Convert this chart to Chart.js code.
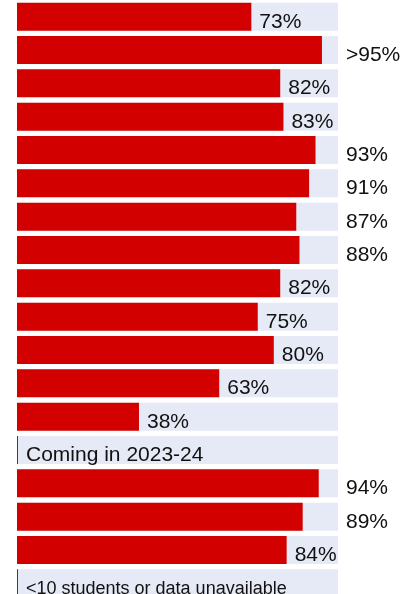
<!DOCTYPE html>
<html>
<head>
<meta charset="utf-8">
<script src="https://cdn.jsdelivr.net/npm/chart.js@4/dist/chart.umd.min.js"></script>
<style>
  html, body { margin: 0; padding: 0; background: #fff; overflow: hidden; }
  #wrap { width: 400px; height: 600px; }
</style>
</head>
<body>
<div id="wrap"><canvas id="grafico" width="400" height="600"></canvas></div>
<script>
// una fila por barra, de arriba a abajo
const filas = ['1', '2', '3', '4', '5', '6', '7', '8', '9', '10', '11', '12', '13', '14', '15', '16', '17', '18'];
const valores = [73, 95, 82, 83, 93, 91, 87, 88, 82, 75, 80, 63, 38, 0, 94, 89, 84, 0];
const etiquetas = ['73%', '>95%', '82%', '83%', '93%', '91%', '87%', '88%', '82%', '75%', '80%', '63%', '38%', '', '94%', '89%', '84%', ''];
const notas = ['', '', '', '', '', '', '', '', '', '', '', '', '', 'Coming in 2023-24', '', '', '', '<10 students or data unavailable'];
const maximo = [100, 100, 100, 100, 100, 100, 100, 100, 100, 100, 100, 100, 100, 100, 100, 100, 100, 100];

const ROJO = '#d30000';
const FONDO = '#e6e9f6';
const FUENTE = '"Liberation Sans", Arial, sans-serif';

const etiquetasPlugin = {
  id: 'etiquetas',
  afterDatasetsDraw(chart) {
    const ctx = chart.ctx;
    const meta = chart.getDatasetMeta(1);
    const limite = chart.scales.x.getPixelForValue(100);
    ctx.save();
    ctx.fillStyle = '#111';
    ctx.textBaseline = 'alphabetic';
    meta.data.forEach((barra, i) => {
      const y = barra.y + 11;
      if (notas[i]) {
        const size = notas[i].length > 20 ? 18 : 21;
        ctx.font = size + 'px ' + FUENTE;
        ctx.fillText(notas[i], barra.base + 9, y);
        return;
      }
      ctx.font = '21px ' + FUENTE;
      const w = ctx.measureText(etiquetas[i]).width;
      let x = barra.x + 8;
      if (x + w > limite) x = limite + 8;
      ctx.fillText(etiquetas[i], x, y);
    });
    ctx.restore();
  }
};

new Chart(document.getElementById('grafico').getContext('2d'), {
  type: 'bar',
  data: {
    labels: filas,
    datasets: [
      {
        data: maximo,
        backgroundColor: FONDO,
        grouped: false,
        order: 2,
        barPercentage: 0.84,
        categoryPercentage: 1
      },
      {
        data: valores,
        backgroundColor: ROJO,
        grouped: false,
        order: 1,
        minBarLength: 1,
        barPercentage: 0.84,
        categoryPercentage: 1
      }
    ]
  },
  options: {
    indexAxis: 'y',
    responsive: false,
    animation: false,
    layout: { padding: { left: 17, right: 62, top: 0, bottom: 0 } },
    plugins: { legend: { display: false }, tooltip: { enabled: false } },
    scales: {
      x: { display: false, min: 0, max: 100 },
      y: { display: false }
    }
  },
  plugins: [etiquetasPlugin]
});
</script>
</body>
</html>
